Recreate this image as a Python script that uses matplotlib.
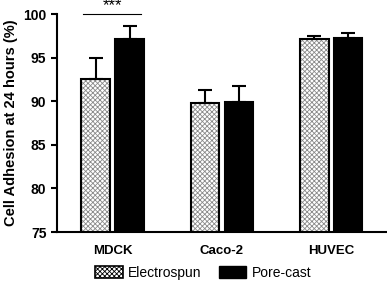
import numpy as np
import matplotlib
matplotlib.use("Agg")
import matplotlib.pyplot as plt
from matplotlib.patches import Patch

plt.rcParams['font.family'] = ['Liberation Sans', 'DejaVu Sans']
plt.rcParams['hatch.linewidth'] = 0.6

# Data
cells = ['MDCK', 'Caco-2', 'HUVEC']
electrospun = [92.5, 89.8, 97.2]
electrospun_err = [2.5, 1.5, 0.3]
porecast = [97.1, 89.9, 97.3]
porecast_err = [1.5, 1.9, 0.55]

fig = plt.figure(figsize=(3.87, 2.82), dpi=100)
ax = fig.add_axes([0.147, 0.177, 0.853, 0.773])

x = np.arange(len(cells))
w = 0.26
off = 0.155
hatch_col = '#8a8a8a'

# hatched fill drawn in gray, black outline on top
ax.bar(x - off, electrospun, w, color='white', edgecolor=hatch_col,
       hatch='xxxxxxx', linewidth=0, zorder=2)
ax.bar(x - off, electrospun, w, color='none', edgecolor='black', linewidth=1.5, zorder=2)
ax.bar(x + off, porecast, w, color='black', edgecolor='black', linewidth=1.5, zorder=2)
ax.errorbar(x - off, electrospun, yerr=[np.zeros(3), electrospun_err], fmt='none',
            ecolor='black', elinewidth=1.5, capsize=5, capthick=1.5, zorder=3)
ax.errorbar(x + off, porecast, yerr=[np.zeros(3), porecast_err], fmt='none',
            ecolor='black', elinewidth=1.5, capsize=5, capthick=1.5, zorder=3)

# significance marker
ax.plot([x[0] - off - 0.12, x[0] + off + 0.1], [100, 100], color='black', lw=0.8, clip_on=False)
ax.text(x[0] - 0.005, 100.4, '***', ha='center', va='baseline', fontsize=12, clip_on=False)

ax.set_ylim(75, 100)
ax.set_xlim(-0.51, 2.51)
ax.set_yticks([75, 80, 85, 90, 95, 100])
ax.set_xticks(x)
ax.set_xticklabels(cells, fontweight='bold', fontsize=9.5)
ax.tick_params(axis='x', length=0, pad=9)
ax.tick_params(axis='y', length=4, width=1.5, labelsize=10)
for lab in ax.get_yticklabels():
    lab.set_fontweight('bold')
ax.set_ylabel('Cell Adhesion at 24 hours (%)', fontweight='bold', fontsize=10.5)
ax.spines['top'].set_visible(False)
ax.spines['right'].set_visible(False)
ax.spines['left'].set_linewidth(1.5)
ax.spines['bottom'].set_linewidth(1.5)

handles = [Patch(facecolor='white', edgecolor=hatch_col, hatch='xxxxxxx', label='Electrospun'),
           Patch(facecolor='black', edgecolor='black', label='Pore-cast')]
leg = fig.legend(handles=handles, loc='center left', bbox_to_anchor=(95 / 387, 1 - 273 / 282),
                 ncol=2, frameon=False, fontsize=10, handlelength=2.0, handleheight=0.9,
                 handletextpad=0.4, columnspacing=1.2, borderpad=0, borderaxespad=0)
leg.get_patches()[0].set_linewidth(1.2)
leg.get_patches()[0].set_edgecolor('black')

fig.savefig('out.png', dpi=100)
